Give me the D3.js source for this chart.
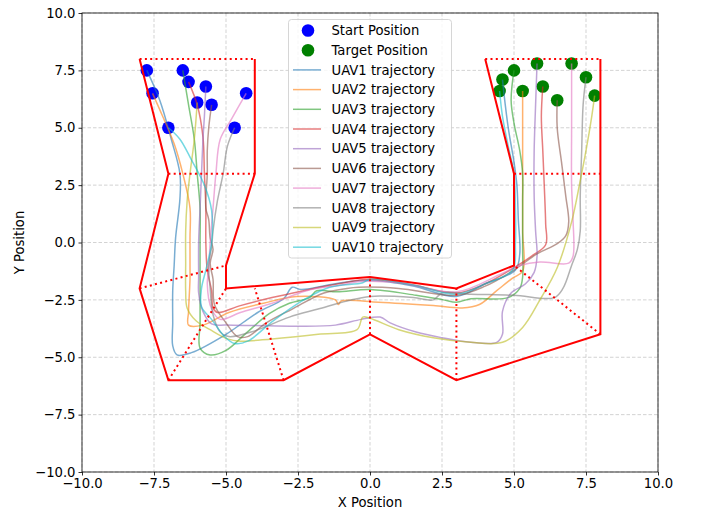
<!DOCTYPE html>
<html><head><meta charset="utf-8">
<script src="https://cdn.jsdelivr.net/npm/d3@7"></script>
<style>body{margin:0;background:#fff}svg{display:block}text{font-family:"DejaVu Sans",sans-serif}</style>
</head><body><svg id="c" width="701" height="510"></svg>
<script>
const ticks = [-10, -7.5, -5, -2.5, 0, 2.5, 5, 7.5, 10];
const seriesNames = ["UAV1 trajectory","UAV2 trajectory","UAV3 trajectory","UAV4 trajectory","UAV5 trajectory","UAV6 trajectory","UAV7 trajectory","UAV8 trajectory","UAV9 trajectory","UAV10 trajectory"];
const seriesColors = ["#1f77b4","#ff7f0e","#2ca02c","#d62728","#9467bd","#8c564b","#e377c2","#7f7f7f","#bcbd22","#17becf"];
const startPos = [[-7.75,7.5],[-7.55,6.5],[-6.5,7.5],[-6.3,7.0],[-5.7,6.8],[-5.5,6.0],[-4.3,6.5],[-4.7,5.0],[-6.0,6.1],[-7.0,5.0]];
const targetPos = [[4.6,7.1],[5.3,6.6],[5.0,7.5],[6.0,6.8],[5.8,7.8],[6.5,6.2],[7.0,7.8],[7.5,7.2],[7.8,6.4],[4.5,6.6]];
const outerWall = [[-8,8],[-7,3],[-8,-2],[-7,-6],[-3,-6],[0,-4],[3,-6],[8,-4],[8,8]];
const innerWall = [[-4,8],[-4,3],[-5,-1],[-5,-2],[0,-1.5],[3,-2],[5,-1],[5,3],[4,8]];
const gates = [
  [[-8,8],[-4,8]], [[-7,3],[-4,3]], [[-8,-2],[-5,-1]], [[-7,-6],[-5,-2]], [[-3,-6],[-4,-2]],
  [[0,-4],[0,-1.5]], [[3,-6],[3,-2]], [[8,-4],[5,-1]], [[5,3],[8,3]], [[4,8],[8,8]]
];
const uav1 = [[-7.75,7.5],[-7.3,6.2],[-6.9,4.5],[-6.6,3.0],[-6.6,1.9],[-6.75,0.2],[-6.8,-1.0],[-6.85,-2.1],[-6.85,-3.5],[-6.85,-4.5],[-6.7,-4.9],[-6.2,-4.8],[-5.0,-4.0],[-3.9,-3.05],[-3.0,-2.45],[-2.7,-1.95],[-2.4,-2.05],[-1.0,-1.75],[0,-1.65],[1.5,-1.9],[3.0,-2.35],[4.0,-1.8],[5.05,-1.2],[5.2,-0.5],[5.15,1.0],[5.1,2.5],[5.0,3.5],[4.8,5.0],[4.65,6.5],[4.6,7.1]];
const uav2 = [[-7.55,6.5],[-7.2,5.5],[-6.8,4.3],[-6.5,3.0],[-6.25,1.5],[-6.25,0.2],[-6.25,-1.0],[-6.25,-1.6],[-6.3,-3.0],[-6.3,-3.6],[-5.8,-3.6],[-4.9,-3.05],[-3.7,-2.65],[-2.55,-2.35],[-1.2,-2.5],[-1.1,-2.7],[-1.0,-2.55],[0.3,-2.6],[2.2,-2.75],[3.2,-2.85],[3.8,-2.7],[4.4,-2.1],[4.95,-1.55],[5.3,-1.25],[5.3,0.5],[5.3,2.0],[5.3,3.5],[5.3,5.2],[5.3,6.6]];
const uav3 = [[-6.5,7.5],[-6.3,6.0],[-6.1,4.5],[-6.0,3.0],[-5.9,1.5],[-5.9,0.0],[-5.9,-2.0],[-5.9,-3.5],[-5.9,-4.6],[-5.55,-4.9],[-5.0,-4.7],[-4.3,-3.95],[-3.5,-3.1],[-2.8,-2.65],[-2.1,-2.4],[-1.85,-2.1],[-1.15,-2.15],[0,-2.05],[1.6,-2.3],[2.55,-2.5],[3.0,-2.6],[3.5,-2.45],[4.8,-2.4],[5.2,-2.0],[5.3,-1.5],[5.3,-0.3],[5.3,1.8],[5.3,3.0],[5.2,4.0],[5.0,5.2],[4.9,6.2],[5.0,7.5]];
const uav4 = [[-6.3,7.0],[-6.0,6.0],[-5.8,4.6],[-5.75,3.0],[-5.7,1.5],[-5.7,0.0],[-5.65,-1.2],[-5.5,-2.1],[-5.45,-2.85],[-5.3,-3.05],[-4.5,-2.75],[-3.4,-2.4],[-2.3,-2.1],[-1.1,-1.8],[0,-1.6],[1.5,-1.85],[3.0,-2.2],[4.0,-1.8],[5.0,-1.1],[5.6,-0.6],[6.1,-0.1],[6.1,0.8],[6.05,2.5],[6.0,4.0],[5.95,5.5],[6.0,6.8]];
const uav5 = [[-5.7,6.8],[-5.75,5.5],[-5.8,4.5],[-5.85,3.0],[-5.9,1.5],[-5.95,0.0],[-5.95,-1.5],[-5.95,-2.2],[-5.8,-3.0],[-5.5,-3.55],[-5.0,-3.6],[-4.0,-3.62],[-2.5,-3.65],[-1.2,-3.6],[-0.3,-3.35],[0.35,-3.25],[0.7,-3.5],[1.6,-3.9],[2.5,-4.15],[3.5,-4.35],[4.4,-4.35],[4.6,-4.0],[4.6,-3.0],[4.9,-2.2],[5.4,-1.8],[5.7,-1.3],[5.8,-0.6],[5.75,0.5],[5.7,2.0],[5.7,4.0],[5.75,6.0],[5.8,7.8]];
const uav6 = [[-5.5,6.0],[-5.6,5.0],[-5.65,4.0],[-5.65,3.0],[-5.7,1.5],[-5.6,1.0],[-5.55,0.2],[-5.45,-0.3],[-5.55,-0.9],[-5.45,-1.6],[-5.4,-2.7],[-5.0,-3.5],[-4.6,-4.1],[-4.25,-4.1],[-3.6,-3.5],[-2.7,-2.9],[-1.6,-2.2],[-0.8,-2.0],[-0.4,-1.95],[1.0,-2.0],[3.0,-2.3],[4.0,-1.9],[5.0,-1.2],[5.8,-0.5],[6.5,-0.05],[6.8,0.3],[6.9,0.9],[6.8,2.0],[6.65,3.5],[6.5,5.0],[6.5,6.2]];
const uav7 = [[-4.3,6.5],[-4.8,5.4],[-5.2,4.5],[-5.35,3.0],[-5.45,1.5],[-5.55,0.0],[-5.6,-1.2],[-5.65,-1.8],[-5.5,-2.9],[-5.2,-3.35],[-4.5,-3.05],[-3.4,-2.65],[-2.2,-2.1],[-1.0,-1.85],[-0.35,-1.7],[1.0,-1.75],[3.0,-2.15],[4.5,-1.4],[5.2,-1.0],[5.9,-0.85],[6.9,-0.9],[7.05,-0.6],[7.05,1.0],[7.0,2.5],[7.0,5.0],[7.0,7.8]];
const uav8 = [[-4.7,5.0],[-4.95,4.2],[-5.1,3.0],[-5.3,1.8],[-5.45,0.5],[-5.5,-0.2],[-5.6,-1.0],[-5.55,-2.0],[-5.45,-3.15],[-5.2,-3.9],[-4.9,-4.1],[-4.0,-3.85],[-2.8,-3.25],[-1.8,-2.9],[-0.8,-2.55],[0,-2.35],[1.5,-2.4],[2.2,-2.5],[2.5,-2.2],[3.5,-2.25],[5.0,-2.3],[6.4,-2.4],[6.7,-2.0],[7.0,-1.0],[7.2,-0.3],[7.3,0.5],[7.3,2.0],[7.35,4.0],[7.4,6.0],[7.5,7.2]];
const uav9 = [[-6.0,6.1],[-6.1,4.5],[-6.25,3.0],[-6.35,1.8],[-6.4,0.5],[-6.4,-0.9],[-6.4,-2.1],[-6.35,-2.85],[-6.05,-3.4],[-5.55,-3.8],[-4.95,-4.2],[-4.5,-4.3],[-3.4,-4.2],[-1.8,-4.0],[-0.45,-3.8],[-0.25,-3.25],[0,-3.3],[1.0,-3.8],[2.2,-4.15],[3.5,-4.35],[4.6,-4.35],[5.3,-3.7],[5.9,-2.5],[6.5,-1.1],[7.0,0.9],[7.3,2.7],[7.5,4.0],[7.7,5.5],[7.8,6.4]];
const uav10 = [[-7.0,5.0],[-6.6,4.5],[-6.2,3.6],[-5.75,2.5],[-5.5,1.4],[-5.5,0.0],[-5.7,-1.2],[-5.85,-2.0],[-5.85,-2.8],[-5.5,-3.35],[-5.05,-4.1],[-4.7,-4.4],[-4.25,-4.3],[-3.35,-3.4],[-2.3,-2.5],[-1.4,-1.95],[-0.25,-1.75],[0,-1.6],[1.5,-1.85],[3.0,-2.25],[4.0,-1.8],[4.95,-1.2],[5.05,0.0],[5.05,1.5],[5.0,3.0],[4.8,4.2],[4.6,5.5],[4.5,6.6]];
const trajectories = [uav1,uav2,uav3,uav4,uav5,uav6,uav7,uav8,uav9,uav10];

const FS = 13.2;
const svg = d3.select("#c");
const L = 82, R = 658, T = 13, B = 472;
const x = d3.scaleLinear().domain([-10, 10]).range([L, R]);
const y = d3.scaleLinear().domain([-10, 10]).range([B, T]);
const fmt = d => d3.format(".1f")(d).replace("-", "\u2212");

// grid
const g = svg.append("g");
g.selectAll(".gx").data(ticks).join("line")
  .attr("x1", d => x(d)).attr("x2", d => x(d)).attr("y1", T).attr("y2", B)
  .attr("stroke", "#b0b0b0").attr("stroke-opacity", 0.7).attr("stroke-width", 0.8).attr("stroke-dasharray", "3.5,2");
g.selectAll(".gy").data(ticks).join("line")
  .attr("y1", d => y(d)).attr("y2", d => y(d)).attr("x1", L).attr("x2", R)
  .attr("stroke", "#b0b0b0").attr("stroke-opacity", 0.7).attr("stroke-width", 0.8).attr("stroke-dasharray", "3.5,2");

svg.append("clipPath").attr("id", "pa").append("rect").attr("x", L).attr("y", T).attr("width", R - L).attr("height", B - T);
const plot = svg.append("g").attr("clip-path", "url(#pa)");

// markers
plot.selectAll(".st").data(startPos).join("circle").attr("cx", d => x(d[0])).attr("cy", d => y(d[1])).attr("r", 6.3).attr("fill", "blue");
plot.selectAll(".tg").data(targetPos).join("circle").attr("cx", d => x(d[0])).attr("cy", d => y(d[1])).attr("r", 6.3).attr("fill", "green");

// trajectories
const line = d3.line().x(d => x(d[0])).y(d => y(d[1])).curve(d3.curveCatmullRom.alpha(0.5));
trajectories.forEach((t, i) => {
  plot.append("path").attr("d", line(t)).attr("fill", "none").attr("stroke", seriesColors[i])
    .attr("stroke-width", 1.5).attr("stroke-opacity", 0.6);
});

// walls
const wl = d3.line().x(d => x(d[0])).y(d => y(d[1]));
[outerWall, innerWall].forEach(w => plot.append("path").attr("d", wl(w)).attr("fill", "none").attr("stroke", "red").attr("stroke-width", 2));
gates.forEach(gt => plot.append("path").attr("d", wl(gt)).attr("fill", "none").attr("stroke", "red").attr("stroke-width", 2).attr("stroke-dasharray", "2,3.3"));

// axes
const ax = svg.append("g").attr("transform", `translate(0,${B})`).call(d3.axisBottom(x).tickValues(ticks).tickFormat(fmt).tickSize(3.5).tickPadding(3));
const ay = svg.append("g").attr("transform", `translate(${L},0)`).call(d3.axisLeft(y).tickValues(ticks).tickFormat(fmt).tickSize(3.5).tickPadding(3));
[ax, ay].forEach(a => { a.select(".domain").remove(); a.selectAll("text").attr("font-size", FS).attr("fill", "#000").attr("font-family", "DejaVu Sans"); a.selectAll("line").attr("stroke", "#000").attr("stroke-width", 0.8); });
svg.append("rect").attr("x", L).attr("y", T).attr("width", R - L).attr("height", B - T).attr("fill", "none").attr("stroke", "#000").attr("stroke-width", 0.8);

svg.append("text").attr("x", (L + R) / 2).attr("y", 507).attr("text-anchor", "middle").attr("font-size", FS).text("X Position");
svg.append("text").attr("transform", `translate(24,${(T + B) / 2}) rotate(-90)`).attr("text-anchor", "middle").attr("font-size", FS).text("Y Position");

// legend
const lg = svg.append("g");
lg.append("rect").attr("x", 288.5).attr("y", 19.5).attr("width", 163).attr("height", 238.5).attr("rx", 3)
  .attr("fill", "#fff").attr("fill-opacity", 0.8).attr("stroke", "#cccccc").attr("stroke-width", 0.8);
const rowY = i => 30.5 + i * 19.7;
const legendItems = [{label: "Start Position", type: "dot", color: "blue"}, {label: "Target Position", type: "dot", color: "green"}]
  .concat(seriesNames.map((n, i) => ({label: n, type: "line", color: seriesColors[i]})));
legendItems.forEach((it, i) => {
  const cy = rowY(i);
  if (it.type === "dot") lg.append("circle").attr("cx", 308).attr("cy", cy).attr("r", 6.3).attr("fill", it.color);
  else lg.append("line").attr("x1", 293).attr("x2", 321).attr("y1", cy).attr("y2", cy).attr("stroke", it.color).attr("stroke-width", 1.5).attr("stroke-opacity", 0.6);
  lg.append("text").attr("x", 331.5).attr("y", cy).attr("dy", "0.36em").attr("font-size", FS).text(it.label);
});
</script></body></html>
